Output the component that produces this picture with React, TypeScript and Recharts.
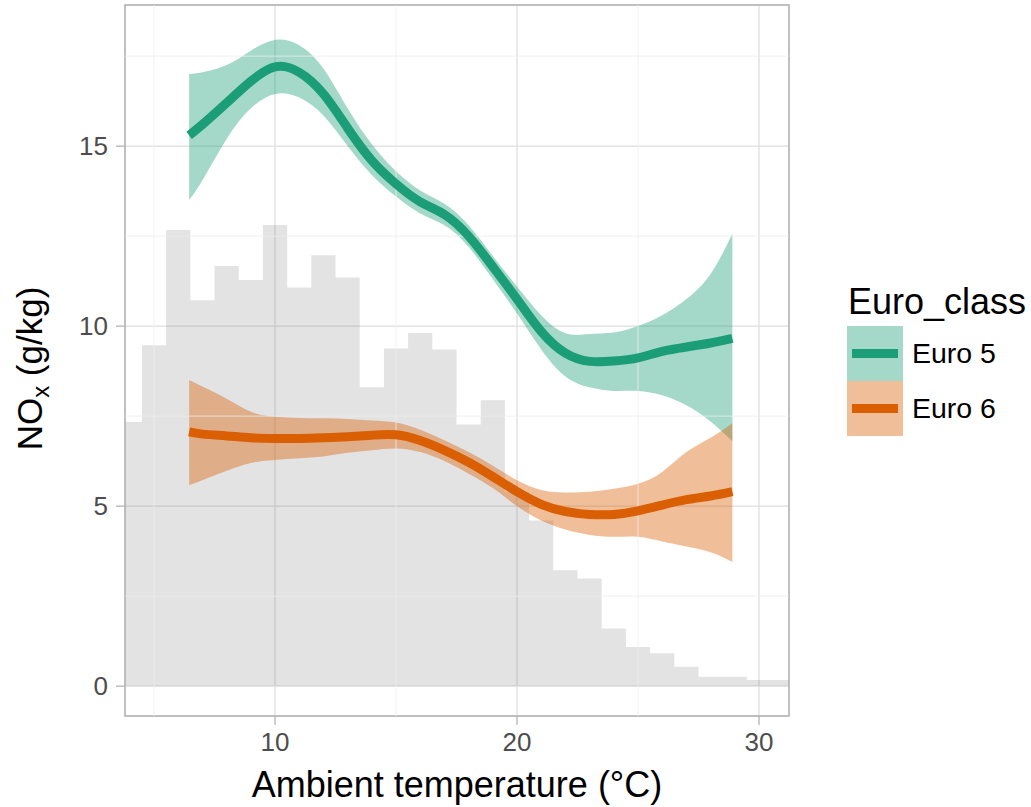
import {
  ComposedChart,
  Area,
  Line,
  XAxis,
  YAxis,
  CartesianGrid,
  ReferenceLine,
  ReferenceArea,
  Legend,
  Label,
} from 'recharts'

const FONT = '"Liberation Sans", Arial, Helvetica, sans-serif'
const GREEN = '#1b9e77'
const ORANGE = '#d95f02'

// temperature grid for the smoothed fits (°C)
const temps = [6.45, 7, 8, 9, 10, 11, 12, 13, 14, 15, 16, 17, 18, 19, 20, 21, 22, 23, 24, 25, 26, 27, 28, 28.9]

// Euro 5 smooth + confidence band (g/kg)
const euro5Fit = [15.3, 15.6, 16.2, 16.8, 17.2, 17.05, 16.45, 15.5, 14.6, 13.95, 13.45, 13.1, 12.5, 11.65, 10.75, 9.85, 9.25, 9.02, 9.03, 9.12, 9.3, 9.42, 9.53, 9.66]
const euro5Lower = [13.5, 14.05, 15.2, 16.05, 16.45, 16.35, 15.85, 15.0, 14.2, 13.6, 13.13, 12.8, 12.2, 11.3, 10.35, 9.35, 8.6, 8.3, 8.2, 8.2, 8.08, 7.8, 7.35, 6.8]
const euro5Upper = [17.0, 17.05, 17.25, 17.65, 17.95, 17.8, 17.15, 16.05, 15.05, 14.3, 13.77, 13.4, 12.8, 11.95, 11.1, 10.3, 9.8, 9.78, 9.82, 10.0, 10.3, 10.75, 11.45, 12.57]

// Euro 6 smooth + confidence band (g/kg)
const euro6Fit = [7.06, 7.0, 6.95, 6.9, 6.88, 6.88, 6.9, 6.93, 6.97, 6.98, 6.82, 6.55, 6.22, 5.82, 5.4, 5.05, 4.85, 4.77, 4.77, 4.87, 5.03, 5.18, 5.28, 5.4]
const euro6Lower = [5.58, 5.72, 5.98, 6.2, 6.28, 6.33, 6.38, 6.48, 6.55, 6.6, 6.5, 6.25, 5.9, 5.5, 5.0, 4.6, 4.35, 4.2, 4.15, 4.15, 4.02, 3.88, 3.72, 3.45]
const euro6Upper = [8.5, 8.32, 7.98, 7.62, 7.48, 7.45, 7.44, 7.42, 7.38, 7.32, 7.12, 6.83, 6.5, 6.12, 5.72, 5.45, 5.38, 5.4, 5.48, 5.62, 5.95, 6.5, 6.9, 7.3]

// temperature histogram (1 °C bins, scaled to the NOx axis)
const binCenters = [4, 5, 6, 7, 8, 9, 10, 11, 12, 13, 14, 15, 16, 17, 18, 19, 20, 21, 22, 23, 24, 25, 26, 27, 28, 29, 30, 31]
const binHeights = [7.34, 9.47, 12.67, 10.72, 11.67, 11.28, 12.81, 11.07, 11.97, 11.35, 8.3, 9.38, 9.81, 9.35, 7.27, 7.94, 5.4, 4.6, 3.22, 2.99, 1.6, 1.09, 0.91, 0.54, 0.26, 0.26, 0.17, 0.17]

const xTicks = [10, 20, 30]
const xMinor = [5, 15, 25]
const yTicks = [0, 5, 10, 15]
const yMinor = [2.5, 7.5, 12.5, 17.5]
const xDomain = [3.8, 31.24]
const yDomain = [-0.83, 18.92]

const histRows = binCenters.map((c, i) => ({ t: c - 0.5, count: binHeights[i] }))
histRows.push({ t: binCenters[binCenters.length - 1] + 0.5, count: binHeights[binHeights.length - 1] })

const euro5Rows = temps.map((t, i) => ({ t, fit: euro5Fit[i], lo: euro5Lower[i], hi: euro5Upper[i] }))
const euro6Rows = temps.map((t, i) => ({ t, fit: euro6Fit[i], lo: euro6Lower[i], hi: euro6Upper[i] }))

const series = [
  { name: 'Euro 5', color: GREEN },
  { name: 'Euro 6', color: ORANGE },
]

function YTitle(props: any) {
  const vb = props.viewBox || { y: 0, height: 0 }
  const cx = 42
  const cy = vb.y + vb.height / 2 + 8
  return (
    <text
      x={cx}
      y={cy}
      transform={`rotate(-90 ${cx} ${cy})`}
      textAnchor="middle"
      fontSize={35}
      fontFamily={FONT}
      fill="#000"
    >
      NO
      <tspan fontSize={24} dy={7}>x</tspan>
      <tspan dy={-7}> (g/kg)</tspan>
    </text>
  )
}

function LegendBox() {
  return (
    <div style={{ fontFamily: FONT, color: '#000' }}>
      <div style={{ fontSize: 36, lineHeight: '36px', height: 42, marginLeft: 1 }}>Euro_class</div>
      {series.map((s) => (
        <div key={s.name} style={{ display: 'flex', alignItems: 'center', height: 55 }}>
          <div
            style={{
              width: 56,
              height: 55,
              position: 'relative',
              background: s.color === GREEN ? 'rgba(27,158,119,0.4)' : 'rgba(217,95,2,0.4)',
            }}
          >
            <div
              style={{
                position: 'absolute',
                left: 5,
                right: 5,
                top: 23,
                height: 9,
                background: s.color,
              }}
            />
          </div>
          <span style={{ fontSize: 28.5, marginLeft: 9, lineHeight: '55px' }}>{s.name}</span>
        </div>
      ))}
    </div>
  )
}

export default function App() {
  return (
    <div style={{ position: 'absolute', left: 0, top: 0, width: 1031, height: 807, background: '#fff' }}>
      <ComposedChart width={1031} height={807} margin={{ top: 5, right: 242, bottom: 0, left: 0 }}>
        <CartesianGrid stroke="#dedede" strokeWidth={1.3} horizontal vertical />
        {xMinor.map((v) => (
          <ReferenceLine key={`vx${v}`} x={v} stroke="#eeeeee" strokeWidth={0.8} />
        ))}
        {yMinor.map((v) => (
          <ReferenceLine key={`hy${v}`} y={v} stroke="#eeeeee" strokeWidth={0.8} />
        ))}
        <XAxis
          type="number"
          dataKey="t"
          domain={xDomain}
          ticks={xTicks}
          allowDataOverflow
          height={91}
          axisLine={false}
          tickSize={9}
          tickMargin={8}
          tickLine={{ stroke: '#b3b3b3', strokeWidth: 1.3 }}
          tick={{ fill: '#4d4d4d', fontSize: 26, fontFamily: FONT }}
        >
          <Label
            value="Ambient temperature (°C)"
            position="insideBottom"
            offset={10}
            fontSize={36}
            fill="#000"
            fontFamily={FONT}
          />
        </XAxis>
        <YAxis
          type="number"
          domain={yDomain}
          ticks={yTicks}
          allowDataOverflow
          width={125}
          axisLine={false}
          tickSize={9}
          tickMargin={8}
          tickLine={{ stroke: '#b3b3b3', strokeWidth: 1.3 }}
          tick={{ fill: '#4d4d4d', fontSize: 26, fontFamily: FONT }}
        >
          <Label content={<YTitle />} />
        </YAxis>
        <Area
          data={histRows}
          dataKey="count"
          type="stepAfter"
          stroke="none"
          fill="#808080"
          fillOpacity={0.22}
          isAnimationActive={false}
        />
        <Area
          data={euro5Rows}
          dataKey={(d: any) => [d.lo, d.hi]}
          type="natural"
          stroke="none"
          fill={GREEN}
          fillOpacity={0.4}
          isAnimationActive={false}
        />
        <Line
          data={euro5Rows}
          dataKey="fit"
          type="natural"
          stroke={GREEN}
          strokeWidth={9}
          dot={false}
          activeDot={false}
          isAnimationActive={false}
        />
        <Area
          data={euro6Rows}
          dataKey={(d: any) => [d.lo, d.hi]}
          type="natural"
          stroke="none"
          fill={ORANGE}
          fillOpacity={0.4}
          isAnimationActive={false}
        />
        <Line
          data={euro6Rows}
          dataKey="fit"
          type="natural"
          stroke={ORANGE}
          strokeWidth={9}
          dot={false}
          activeDot={false}
          isAnimationActive={false}
        />
        <ReferenceArea
          x1={xDomain[0]}
          x2={xDomain[1]}
          y1={yDomain[0]}
          y2={yDomain[1]}
          fill="none"
          stroke="#b3b3b3"
          strokeWidth={1.5}
          ifOverflow="visible"
        />
        <Legend
          layout="vertical"
          align="center"
          verticalAlign="middle"
          wrapperStyle={{ left: 847, top: 284, width: 184 }}
          content={() => <LegendBox />}
        />
      </ComposedChart>
    </div>
  )
}
